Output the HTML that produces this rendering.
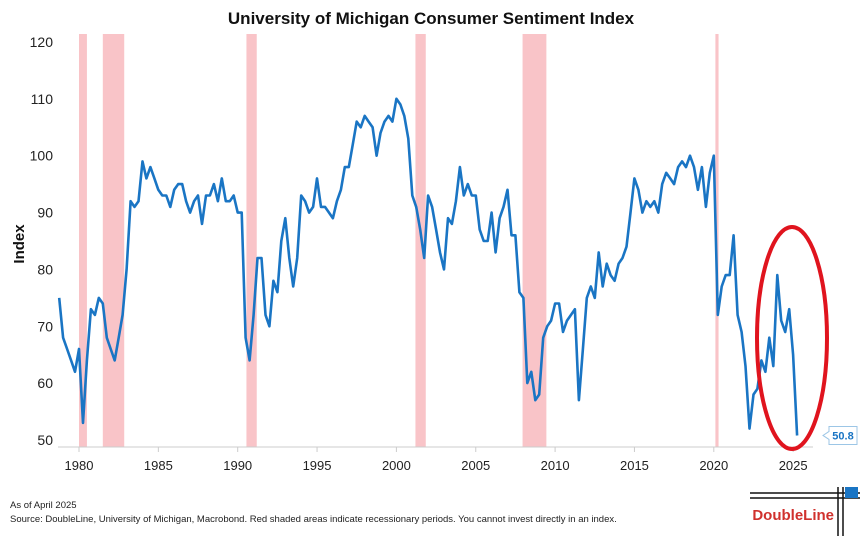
<!DOCTYPE html>
<html><head><meta charset="utf-8"><style>
body{margin:0;background:#fff;font-family:"Liberation Sans",sans-serif}
#c{position:relative;width:863px;height:539px;overflow:hidden}
</style></head><body>
<div id="c">
<svg id="svg" width="863" height="539">
<text x="431" y="24" text-anchor="middle" font-size="17" font-weight="bold" fill="#111">University of Michigan Consumer Sentiment Index</text>
<text transform="translate(24,244) rotate(-90)" text-anchor="middle" font-size="15" font-weight="bold" fill="#111">Index</text>
<g id="rec"></g><g id="yt"></g><g id="xt"></g>
<line x1="58" x2="813" y1="447" y2="447" stroke="#ccc"/>
<path id="line" fill="none" stroke="#1a75c4" stroke-width="2.6" stroke-linejoin="round"/>
<ellipse cx="792" cy="338" rx="35" ry="111" fill="none" stroke="#e0141e" stroke-width="4"/>
<path id="callout" fill="#fff" stroke="#9cc6e6" stroke-width="1"/>
<text id="calltext" font-size="11" font-weight="bold" fill="#1a75c4" text-anchor="middle"></text>
<text x="10" y="508" font-size="9.5" fill="#222">As of April 2025</text>
<text x="10" y="522" font-size="9.5" fill="#222">Source: DoubleLine, University of Michigan, Macrobond. Red shaded areas indicate recessionary periods. You cannot invest directly in an index.</text>
<g>
<line x1="750" x2="860" y1="493" y2="493" stroke="#111" stroke-width="1.5"/>
<line x1="750" x2="860" y1="498" y2="498" stroke="#111" stroke-width="1.5"/>
<line x1="838" x2="838" y1="487" y2="536" stroke="#111" stroke-width="1.5"/>
<line x1="843" x2="843" y1="487" y2="536" stroke="#111" stroke-width="1.5"/>
<rect x="845" y="487" width="13" height="11" fill="#1a75c4"/>
<text x="834" y="520" text-anchor="end" font-size="15" font-weight="bold" fill="#d0312d">DoubleLine</text>
</g>
</svg></div>
<script>
const startYear = 1978.75;
const step = 0.25;
const values = [75,
68,66,64,62, 66,53,64,73, 72,75,74,68, 66,64,68,72, 80,92,91,92, 99,96,98,96,
94,93,93,91, 94,95,95,92, 90,92,93,88, 93,93,95,92, 96,92,92,93,
90,90,68,64, 72,82,82,72, 70,78,76,85, 89,82,77,82, 93,92,90,91,
96,91,91,90, 89,92,94,98, 98,102,106,105, 107,106,105,100, 104,106,107,106,
110,109,107,103, 93,91,87,82, 93,91,87,83, 80,89,88,92, 98,93,95,93,
93,87,85,85, 90,83,89,91, 94,86,86,76, 75,60,62,57, 58,68,70,71,
74,74,69,71, 72,73,57,66, 75,77,75,83, 77,81,79,78, 81,82,84,90,
96,94,90,92, 91,92,90,95, 97,96,95,98, 99,98,100,98, 94,98,91,97,
100,72,77,79, 79,86,72,69, 63,52,58,59, 64,62,68,63, 79,71,69,73, 65,50.8];
const recessions = [[1980.0,1980.5],[1981.5,1982.85],[1990.55,1991.2],[2001.2,2001.85],[2007.95,2009.45],[2020.1,2020.3]];
const yTicks = [50,60,70,80,90,100,110,120];
const xTicks = [1980,1985,1990,1995,2000,2005,2010,2015,2020,2025];

const NS="http://www.w3.org/2000/svg";
const X = t => 79 + (t-1980)*15.87;
const Y = v => 440 - (v-50)*5.686;
const rec=document.getElementById('rec');
recessions.forEach(r=>{
  const e=document.createElementNS(NS,'rect');
  e.setAttribute('x',X(r[0]));e.setAttribute('width',Math.max(1.5,X(r[1])-X(r[0])));
  e.setAttribute('y',34);e.setAttribute('height',413);e.setAttribute('fill','#f9c4c8');
  
  
  rec.appendChild(e);
});
const yt=document.getElementById('yt');
yTicks.forEach(v=>{
  const t=document.createElementNS(NS,'text');
  t.setAttribute('x',53);t.setAttribute('y',Y(v)+5);t.setAttribute('text-anchor','end');
  t.setAttribute('font-size','14');t.setAttribute('fill','#222');t.textContent=v;
  
  
  yt.appendChild(t);
});
const xt=document.getElementById('xt');
xTicks.forEach(v=>{
  const l=document.createElementNS(NS,'line');
  l.setAttribute('x1',X(v));l.setAttribute('x2',X(v));l.setAttribute('y1',447);l.setAttribute('y2',452);l.setAttribute('stroke','#ccc');
  
  
  xt.appendChild(l);
  const t=document.createElementNS(NS,'text');
  t.setAttribute('x',X(v));t.setAttribute('y',470);t.setAttribute('text-anchor','middle');
  t.setAttribute('font-size','13');t.setAttribute('fill','#222');t.textContent=v;
  
  
  xt.appendChild(t);
});
let d='';
values.forEach((v,i)=>{d+=(i?'L':'M')+X(startYear+i*step).toFixed(1)+','+Y(v).toFixed(1);});
document.getElementById('line').setAttribute('d',d);
const last=values[values.length-1];
const ly=Y(last);
const bx=829;
document.getElementById('callout').setAttribute('d',`M${bx},${ly-9}H857V${ly+9}H${bx}V${ly+4}L${bx-6},${ly}L${bx},${ly-4}Z`);
const ct=document.getElementById('calltext');
ct.setAttribute('x',843);ct.setAttribute('y',ly+4);ct.textContent=last.toFixed(1);
</script>
</body></html>
